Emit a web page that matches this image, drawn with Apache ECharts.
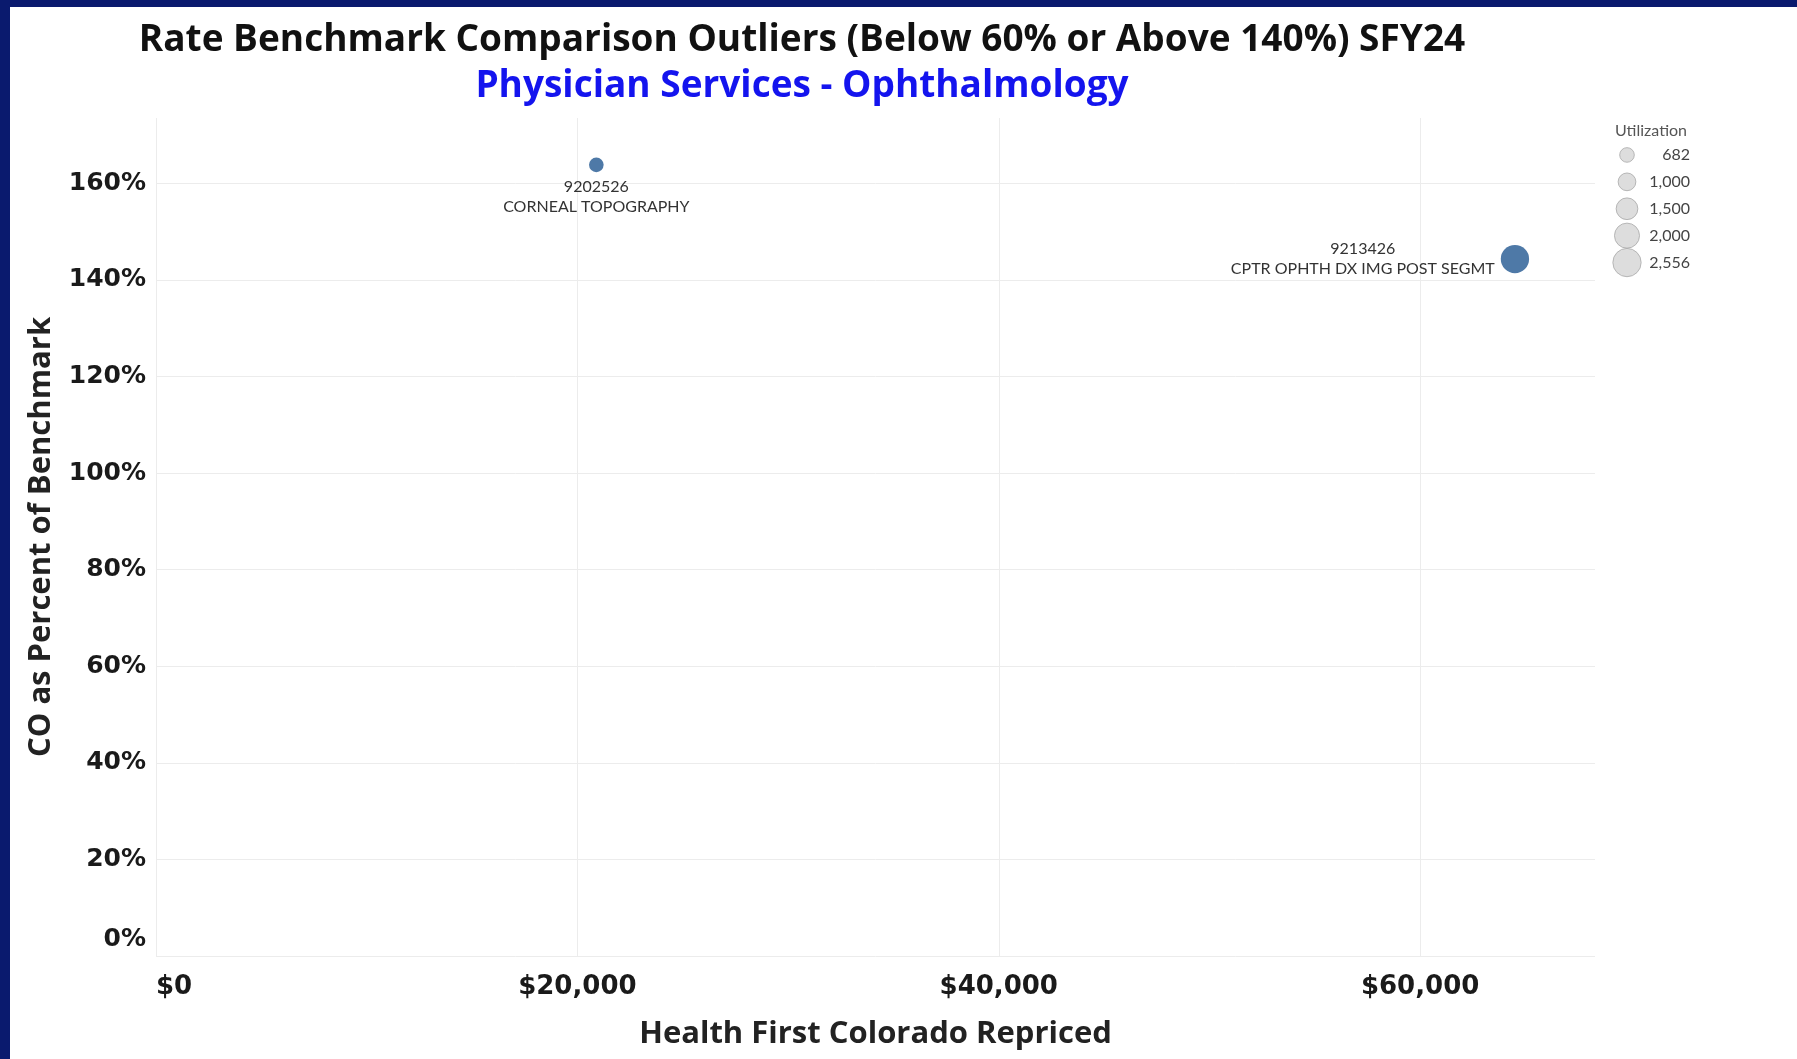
<!DOCTYPE html>
<html>
<head>
<meta charset="utf-8">
<script src="https://cdn.jsdelivr.net/npm/echarts@6/dist/echarts.min.js"></script>
<style>
  html, body { margin: 0; padding: 0; background: #ffffff; }
  #chart { width: 1797px; height: 1059px; }
</style>
</head>
<body>
<div id="chart"></div>
<script>
// ---- data ----
const procCodes = ['9202526', '9213426'];
const procNames = ['CORNEAL TOPOGRAPHY', 'CPTR OPHTH DX IMG POST SEGMT'];
const repriced = [20900, 64500];          // Health First Colorado Repriced ($)
const pctOfBenchmark = [163.8, 144.3];    // CO as Percent of Benchmark (%)
const utilization = [682, 2556];
const legendSizes = [682, 1000, 1500, 2000, 2556];
const titleText = 'Rate Benchmark Comparison Outliers (Below 60% or Above 140%) SFY24';
const subtitleText = 'Physician Services - Ophthalmology';
const xAxisTitle = 'Health First Colorado Repriced';
const yAxisTitle = 'CO as Percent of Benchmark';

// ---- helpers ----
const sizeOf = v => 0.56 * Math.sqrt(v);
const fmt = v => v.toLocaleString('en-US');
const GRID = '#ececec';

const labelStyles = [
  { position: 'bottom', distance: 5, align: 'center' },
  { position: 'left', distance: 138, align: 'center' }
];

const points = procCodes.map((c, i) => ({
  value: [repriced[i], pctOfBenchmark[i], utilization[i]],
  name: c,
  label: labelStyles[i]
}));

const chart = echarts.init(document.getElementById('chart'), null, { renderer: 'canvas' });

const option = {
  backgroundColor: '#ffffff',
  animation: false,
  title: [
    { text: titleText, left: 802, top: 22, padding: 0, textAlign: 'center',
      textStyle: { fontFamily: 'Open Sans', fontWeight: 'bold', fontSize: 37, color: '#111111' } },
    { text: subtitleText, left: 802, top: 68, padding: 0, textAlign: 'center',
      textStyle: { fontFamily: 'Open Sans', fontWeight: 'bold', fontSize: 37, color: '#1414ee' } },
    { text: 'Utilization', left: 1651, top: 123, padding: 0, textAlign: 'center',
      textStyle: { fontFamily: 'Lato', fontWeight: 'normal', fontSize: 16, color: '#555555' } }
  ],
  graphic: [
    { type: 'rect', z: 100, shape: { x: 0, y: 0, width: 1797, height: 7 }, style: { fill: '#0a1a6e' } },
    { type: 'rect', z: 100, shape: { x: 0, y: 0, width: 10, height: 1059 }, style: { fill: '#0a1a6e' } }
  ],
  grid: [
    { left: 156, top: 118, width: 1439, height: 838, outerBoundsMode: 'none' },
    { left: 1616, top: 141.5, width: 22, height: 134.5, outerBoundsMode: 'none' }
  ],
  xAxis: [
    {
      type: 'value', gridIndex: 0, min: 0, max: 68300, interval: 20000,
      name: xAxisTitle, nameLocation: 'middle', nameGap: 63,
      nameTextStyle: { fontFamily: 'Open Sans', fontWeight: 'bold', fontSize: 31, color: '#222222' },
      axisLine: { show: false }, axisTick: { show: false },
      splitLine: { show: true, showMaxLine: false, lineStyle: { color: GRID, width: 1 } },
      axisLabel: {
        margin: 18, showMaxLabel: false, alignMinLabel: 'left',
        fontFamily: 'DejaVu Sans', fontWeight: 'bold', fontSize: 26, color: '#1a1a1a',
        formatter: v => '$' + fmt(v)
      }
    },
    {
      type: 'value', gridIndex: 1, min: 0, max: 2, show: false
    }
  ],
  yAxis: [
    {
      type: 'value', gridIndex: 0, min: 0, max: 173.5, interval: 20,
      name: yAxisTitle, nameLocation: 'middle', nameGap: 99, nameRotate: 90,
      nameTextStyle: { fontFamily: 'Open Sans', fontWeight: 'bold', fontSize: 31, color: '#222222' },
      axisLine: { show: false }, axisTick: { show: false },
      splitLine: { show: true, showMaxLine: false, lineStyle: { color: GRID, width: 1 } },
      axisLabel: {
        margin: 10, showMaxLabel: false,
        fontFamily: 'DejaVu Sans', fontWeight: 'bold', fontSize: 25, color: '#1a1a1a',
        formatter: v => v === 0 ? '{z|0%}' : v + '%',
        rich: { z: { fontFamily: 'DejaVu Sans', fontWeight: 'bold', fontSize: 25, color: '#1a1a1a', padding: [0, 0, 34, 0] } }
      }
    },
    {
      type: 'category', gridIndex: 1, inverse: true, position: 'right',
      data: legendSizes.map(fmt),
      axisLine: { show: false }, axisTick: { show: false }, splitLine: { show: false },
      axisLabel: { align: 'right', margin: 52, fontFamily: 'Lato', fontSize: 16, color: '#444444' }
    }
  ],
  series: [
    {
      type: 'scatter', xAxisIndex: 0, yAxisIndex: 0,
      data: points,
      symbol: 'circle',
      symbolSize: d => sizeOf(d[2]),
      itemStyle: { color: '#4e79a7', opacity: 1 },
      label: {
        show: true, fontFamily: 'Lato', fontSize: 16, lineHeight: 20, color: '#333333',
        formatter: p => procCodes[p.dataIndex] + '\n' + procNames[p.dataIndex]
      },
      z: 5
    },
    {
      type: 'scatter', xAxisIndex: 1, yAxisIndex: 1,
      data: legendSizes.map((v, i) => [1, i, v]),
      symbol: 'circle',
      symbolSize: d => sizeOf(d[2]),
      itemStyle: { color: '#d4d4d4', borderColor: '#a8a8a8', borderWidth: 1 },
      silent: true
    }
  ]
};

chart.setOption(option);
</script>
</body>
</html>
